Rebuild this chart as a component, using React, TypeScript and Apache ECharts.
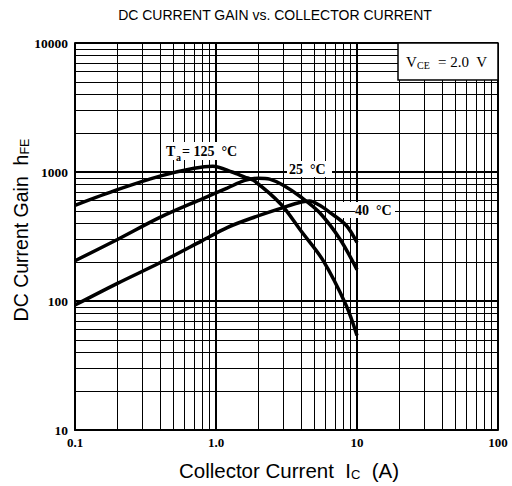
import React, { useEffect, useRef } from "react";
import * as echarts from "echarts";

// Axis ticks
const xTicks = [0.1, 1, 10, 100];
const xTickLabels = ["0.1", "1.0", "10", "100"];
const yTicks = [10, 100, 1000, 10000];
const yTickLabels = ["10", "100", "1000", "10000"];

// Log-paper minor grid values
const xMinorGrid = [0.2, 0.3, 0.4, 0.5, 0.6, 0.7, 0.8, 0.9, 2, 3, 4, 5, 6, 7, 8, 9, 20, 30, 40, 50, 60, 70, 80, 90];
const yMinorGrid = [20, 30, 40, 50, 60, 70, 80, 90, 200, 300, 400, 500, 600, 700, 800, 900, 2000, 3000, 4000, 5000, 6000, 7000, 8000, 9000];

// Ta = 125 °C
const ic125 = [0.1, 0.2, 0.4, 0.7, 0.95, 1.3, 1.6, 1.85, 2.9, 4.0, 5.7, 8.4, 10];
const hfe125 = [552, 730, 930, 1070, 1110, 1000, 914, 860, 560, 350, 209, 92, 54];

// Ta = 25 °C
const ic25 = [0.1, 0.2, 0.4, 0.8, 1.2, 1.6, 2.0, 2.4, 3.0, 4.0, 5.4, 7.6, 10];
const hfe25 = [205, 300, 445, 620, 750, 860, 895, 880, 790, 640, 487, 300, 175];

// Ta = -40 °C
const icM40 = [0.1, 0.2, 0.4, 0.8, 1.2, 1.8, 3.0, 3.8, 4.6, 5.4, 6.4, 8.4, 10];
const hfeM40 = [93, 137, 198, 294, 371, 440, 530, 575, 595, 555, 487, 385, 284];

const SERIF = "Liberation Serif";
const SANS = "Liberation Sans";

function tickLabel(v: number, ticks: number[], labels: string[]) {
  for (let i = 0; i < ticks.length; i++) {
    if (Math.abs(Math.log10(v) - Math.log10(ticks[i])) < 1e-6) return labels[i];
  }
  return "";
}

export default function App() {
  const ref = useRef<HTMLDivElement>(null);
  useEffect(() => {
    if (!ref.current) return;
    const chart = echarts.init(ref.current, undefined, { renderer: "svg" });
    const curve = (name: string, xs: number[], ys: number[]) => ({
      name,
      type: "line",
      data: xs.map((x, i) => [x, ys[i]]),
      smooth: 0.3,
      symbol: "none",
      lineStyle: { color: "#000", width: 3.5 },
      z: 5,
    });
    const txt = (text: string, x: number, y: number, size: number, extra: any = {}) => ({
      type: "text",
      x,
      y,
      z: 100,
      style: {
        text,
        fill: "#000",
        fontSize: size,
        fontFamily: SERIF,
        fontWeight: "bold",
        align: "left",
        verticalAlign: "middle",
        ...extra,
      },
    });
    chart.setOption({
      animation: false,
      backgroundColor: "#fff",
      grid: { left: 75, right: 14, top: 43, bottom: 56, containLabel: false },
      xAxis: {
        type: "log",
        logBase: 10,
        min: 0.1,
        max: 100,
        axisLine: { show: true, lineStyle: { color: "#000", width: 2 } },
        axisTick: { show: false },
        splitLine: { show: true, lineStyle: { color: "#000", width: 2 } },
        axisLabel: {
          color: "#000",
          fontFamily: SERIF,
          fontWeight: "bold",
          fontSize: 13,
          margin: 6,
          formatter: (v: number) => tickLabel(v, xTicks, xTickLabels),
        },
      },
      yAxis: {
        type: "log",
        logBase: 10,
        min: 10,
        max: 10000,
        axisLine: { show: true, lineStyle: { color: "#000", width: 2 } },
        axisTick: { show: false },
        splitLine: { show: true, lineStyle: { color: "#000", width: 2 } },
        axisLabel: {
          color: "#000",
          fontFamily: SERIF,
          fontWeight: "bold",
          fontSize: 13.5,
          margin: 7,
          formatter: (v: number) => tickLabel(v, yTicks, yTickLabels),
        },
      },
      series: [
        {
          type: "line",
          data: [],
          z: 1,
          silent: true,
          markLine: {
            silent: true,
            animation: false,
            symbol: ["none", "none"],
            label: { show: false },
            lineStyle: { color: "#000", width: 1, type: "solid" },
            data: [
              ...xMinorGrid.map((v) => ({ xAxis: v })),
              ...yMinorGrid.map((v) => ({ yAxis: v })),
            ],
          },
        },
        curve("Ta = 125 °C", ic125, hfe125),
        curve("25 °C", ic25, hfe25),
        curve("-40 °C", icM40, hfeM40),
      ],
      graphic: [
        {
          type: "text",
          x: 275,
          y: 15,
          z: 100,
          style: {
            text: "DC CURRENT GAIN vs. COLLECTOR CURRENT",
            fill: "#000",
            fontSize: 14,
            fontFamily: SANS,
            align: "center",
            verticalAlign: "middle",
          },
        },
        {
          type: "text",
          x: 20,
          y: 230,
          rotation: Math.PI / 2,
          z: 100,
          style: {
            text: "{a|DC Current Gain  h}{b|FE}",
            fill: "#000",
            align: "center",
            verticalAlign: "middle",
            rich: {
              a: { fontSize: 19.5, fontFamily: SANS, lineHeight: 22, verticalAlign: "bottom" },
              b: { fontSize: 12.5, fontFamily: SANS, lineHeight: 16, verticalAlign: "bottom" },
            },
          },
        },
        {
          type: "text",
          x: 289,
          y: 469,
          z: 100,
          style: {
            text: "{a|Collector Current  I}{b|C}{a|  (A)}",
            fill: "#000",
            align: "center",
            verticalAlign: "middle",
            rich: {
              a: { fontSize: 20.5, fontFamily: SANS, lineHeight: 23, verticalAlign: "bottom" },
              b: { fontSize: 13, fontFamily: SANS, lineHeight: 17, verticalAlign: "bottom" },
            },
          },
        },
        // VCE box
        {
          type: "rect",
          z: 90,
          shape: { x: 398, y: 43, width: 100, height: 37 },
          style: { fill: "#fff", stroke: "#000", lineWidth: 1.5 },
        },
        txt("V", 406, 62, 15, { fontWeight: "normal" }),
        txt("CE", 417, 65, 10, { fontWeight: "normal" }),
        txt("= 2.0  V", 438, 62, 15, { fontWeight: "normal" }),
        // curve labels
        {
          type: "rect",
          z: 90,
          shape: { x: 163, y: 142, width: 74, height: 18 },
          style: { fill: "#fff" },
        },
        txt("T", 166, 151, 14),
        txt("a", 176, 157, 10),
        txt("= 125  °C", 182, 151, 14),
        {
          type: "rect",
          z: 90,
          shape: { x: 287, y: 161, width: 45, height: 16 },
          style: { fill: "#fff" },
        },
        txt("25  °C", 289, 169, 14),
        {
          type: "rect",
          z: 90,
          shape: { x: 341, y: 202, width: 54, height: 16 },
          style: { fill: "#fff" },
        },
        txt("—40  °C", 341, 210, 14),
      ],
    });
    return () => chart.dispose();
  }, []);
  return (
    <div
      ref={ref}
      style={{ position: "absolute", left: 0, top: 0, width: 512, height: 486 }}
    />
  );
}
